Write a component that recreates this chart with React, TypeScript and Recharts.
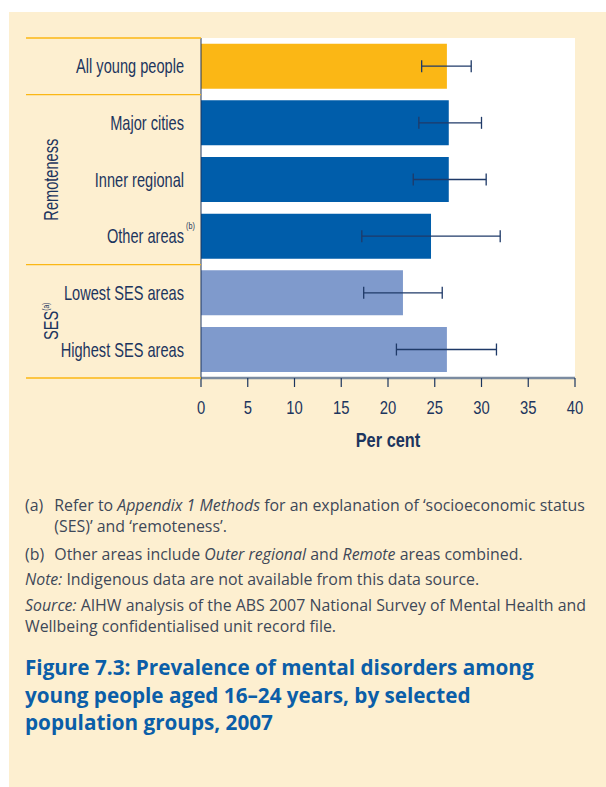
import React from 'react';
import { BarChart, Bar, XAxis, YAxis, CartesianGrid, ErrorBar, Cell } from 'recharts';

const categories = ['All young people', 'Major cities', 'Inner regional', 'Other areas', 'Lowest SES areas', 'Highest SES areas'];
const categorySup = ['', '', '', '(b)', '', ''];
const values = [26.3, 26.5, 26.5, 24.6, 21.6, 26.3];
const lowerCI = [23.6, 23.3, 22.7, 17.2, 17.4, 20.9];
const upperCI = [28.9, 30.0, 30.5, 32.0, 25.8, 31.6];
const barColors = ['#FBB715', '#005DAA', '#005DAA', '#005DAA', '#7F9ACC', '#7F9ACC'];
const xTicks = [0, 5, 10, 15, 20, 25, 30, 35, 40];
const groupLabels = [
  { label: 'Remoteness', sup: '', from: 1, to: 3 },
  { label: 'SES', sup: '(a)', from: 4, to: 5 },
];
const separatorsBefore = [0, 1, 4];

const data = categories.map((name, i) => ({
  name,
  value: values[i],
  err: [values[i] - lowerCI[i], upperCI[i] - values[i]],
}));

const NAVY = '#1c355e';
const YELLOW_LINE = '#FBB715';
const BASE_FONT = '"Liberation Sans", Arial, sans-serif';
const AXIS_W = 201;
const PLOT_H = 340;

const NarrowText = (p: any) => {
  const { x, y, anchor = 'start', size = 20, weight = 'normal', sx = 0.73, rotate = 0, dy = '0.35em', children } = p;
  const tr = `translate(${x},${y})${rotate ? ` rotate(${rotate})` : ''} scale(${sx},1)`;
  return (
    <text transform={tr} x={0} y={0} dy={dy} textAnchor={anchor} fill={NAVY} fontFamily={BASE_FONT}
      fontSize={size} fontWeight={weight}>
      {children}
    </text>
  );
};

const CategoryTick = (props: any) => {
  const { x, y, payload, index } = props;
  const n = categories.length;
  const half = payload && typeof payload.offset === 'number' && payload.offset > 0 ? payload.offset : PLOT_H / n / 2;
  const sup = categorySup[index];
  const els: any[] = [];
  if (separatorsBefore.includes(index)) {
    els.push(<line key="sep" x1={26} x2={AXIS_W} y1={y - half} y2={y - half} stroke={YELLOW_LINE} strokeWidth={1.3} />);
  }
  if (index === n - 1) {
    els.push(<line key="sepb" x1={26} x2={AXIS_W} y1={y + half} y2={y + half} stroke={YELLOW_LINE} strokeWidth={1.3} />);
  }
  groupLabels.forEach((g, gi) => {
    if (g.from === index) {
      const span = g.to - g.from + 1;
      const cy = y - half + span * half;
      els.push(
        <NarrowText key={'g' + gi} x={58} y={cy} anchor="middle" rotate={-90} dy={0} size={20} sx={0.73}>
          {g.label}
          {g.sup ? <tspan dy={-9} fontSize={9}>{g.sup}</tspan> : null}
        </NarrowText>
      );
    }
  });
  return (
    <g>
      {els}
      <NarrowText x={x} y={y} anchor="end">{payload.value}</NarrowText>
      {sup ? (
        <text x={x + 2} y={y - 7} textAnchor="start" fill={NAVY} fontFamily={BASE_FONT} fontSize={9}
          transform={`translate(${x + 2},${y - 7}) scale(0.8,1) translate(${-(x + 2)},${-(y - 7)})`}>{sup}</text>
      ) : null}
    </g>
  );
};

const NumberTick = (props: any) => {
  const { x, y, payload } = props;
  return (
    <NarrowText x={x} y={y} anchor="middle" dy="0.71em" size={19} sx={0.78}>{payload.value}</NarrowText>
  );
};

const AxisTitle = (props: any) => {
  const vb = props.viewBox || { x: 0, y: 0, width: 0, height: 0 };
  return (
    <NarrowText x={vb.x + vb.width / 2} y={vb.y + vb.height - 13} anchor="middle" dy={0} size={19.5} weight="bold" sx={0.84}>
      Per cent
    </NarrowText>
  );
};

const footStyle: React.CSSProperties = {
  fontFamily: '"Open Sans", "Noto Sans", sans-serif',
  fontSize: 15.9,
  lineHeight: '21px',
  color: '#3d4858',
  whiteSpace: 'nowrap',
};

export default function App() {
  return (
    <div style={{ position: 'absolute', left: 0, top: 0, width: 606, height: 787, background: '#ffffff', overflow: 'hidden' }}>
      <div style={{ position: 'absolute', left: 9, top: 12, width: 597, height: 775, background: '#FDEFD0' }} />
      <div style={{ position: 'absolute', left: 0, top: 0 }}>
        <BarChart
          width={606}
          height={460}
          data={data}
          layout="vertical"
          margin={{ top: 38, right: 31, bottom: 0, left: 0 }}
          barCategoryGap="10%"
        >
          <CartesianGrid horizontal={false} vertical={false} fill="#ffffff" stroke="none" />
          <XAxis
            type="number"
            domain={[0, 40]}
            ticks={xTicks}
            height={82}
            axisLine={{ stroke: '#7b8ba0', strokeWidth: 2.5 }}
            tickLine={{ stroke: NAVY, strokeWidth: 1.2 }}
            tickSize={9}
            tickMargin={13}
            tick={<NumberTick />}
            label={{ content: (p: any) => <AxisTitle {...p} /> }}
            interval={0}
          />
          <YAxis
            type="category"
            dataKey="name"
            width={AXIS_W}
            axisLine={{ stroke: NAVY, strokeWidth: 1 }}
            tickLine={false}
            tickSize={0}
            tickMargin={17}
            tick={<CategoryTick />}
            interval={0}
          />
          <Bar dataKey="value" isAnimationActive={false}>
            {data.map((d, i) => (
              <Cell key={d.name} fill={barColors[i]} />
            ))}
            <ErrorBar dataKey="err" direction="x" width={6} stroke="#1f3a68" strokeWidth={1.3} />
          </Bar>
        </BarChart>
      </div>
      <div style={{ position: 'absolute', left: 25, top: 495, ...footStyle }}>
        <div style={{ display: 'flex' }}>
          <div style={{ width: 29.3 }}>(a)</div>
          <div>
            Refer to <i>Appendix 1 Methods</i> for an explanation of ‘socioeconomic status<br />
            (SES)’ and ‘remoteness’.
          </div>
        </div>
        <div style={{ display: 'flex', marginTop: 7 }}>
          <div style={{ width: 29.3 }}>(b)</div>
          <div>
            Other areas include <i>Outer regional</i> and <i>Remote</i> areas combined.
          </div>
        </div>
        <div style={{ marginTop: 4 }}>
          <i>Note:</i> Indigenous data are not available from this data source.
        </div>
        <div style={{ marginTop: 5 }}>
          <i>Source:</i> AIHW analysis of the ABS 2007 National Survey of Mental Health and<br />
          Wellbeing confidentialised unit record file.
        </div>
      </div>
      <div
        style={{
          position: 'absolute',
          left: 25,
          top: 654,
          fontFamily: '"Open Sans", "Noto Sans", sans-serif',
          fontWeight: 'bold',
          fontSize: 20.7,
          lineHeight: '27.5px',
          color: '#0B5EA8',
          whiteSpace: 'nowrap',
        }}
      >
        Figure 7.3: Prevalence of mental disorders among<br />
        young people aged 16–24 years, by selected<br />
        population groups, 2007
      </div>
    </div>
  );
}
